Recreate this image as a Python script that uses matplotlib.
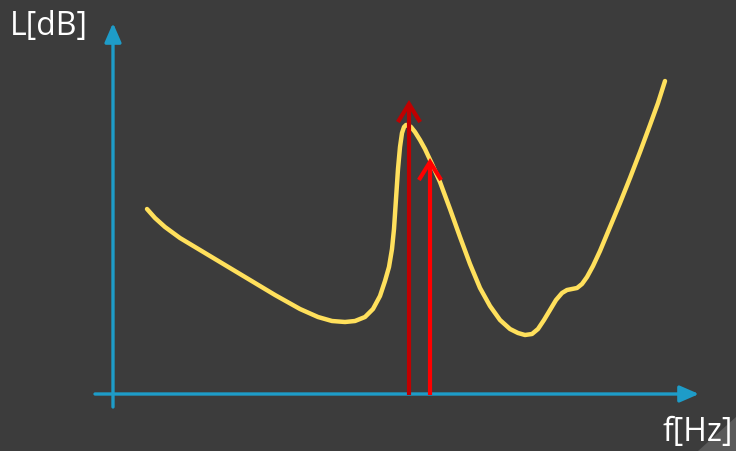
import matplotlib
matplotlib.use("Agg")
import matplotlib.pyplot as plt
from matplotlib.patches import FancyArrowPatch, Polygon

# Curve (frequency response), in image-like units (x right, y down)
curve_x = [147, 155, 165, 180, 200, 225, 250, 275, 300, 318, 332, 345, 355, 365, 373, 380, 385, 389, 392, 394, 396, 398, 400, 402, 404, 406, 408, 411, 415, 420, 425, 432, 440, 450, 460, 470, 480, 490, 500, 510, 518, 525, 532, 538, 544, 550, 556, 562, 567, 572, 577, 582, 587, 593, 600, 610, 620, 630, 640, 650, 658, 665]
curve_y = [210, 219, 228, 239, 251, 266, 281, 296, 310, 318, 322, 323, 322, 318, 310, 297, 282, 268, 250, 230, 200, 170, 148, 134, 128, 126, 126, 128, 133, 141, 150, 165, 183, 210, 238, 265, 289, 307, 321, 330, 334, 336, 335, 330, 321, 311, 301, 294, 291, 290, 289, 285, 278, 267, 252, 228, 204, 179, 153, 126, 104, 82]

# Red arrows: x position and tip height
arrow_x = [409, 430]
arrow_top = [101, 159]
arrow_colors = ["#c00000", "#ff0000"]

axis_label_y = "L[dB]"
axis_label_x = "f[Hz]"

W, H = 736, 452
fig = plt.figure(figsize=(W / 100, H / 100), dpi=100)
fig.patch.set_facecolor("#3c3c3c")
ax = fig.add_axes([0, 0, 1, 1])
ax.set_facecolor("#3c3c3c")
ax.set_xlim(0, W)
ax.set_ylim(H, 0)
ax.axis("off")

blue = "#1e9cc8"
# axes
ax.add_patch(FancyArrowPatch((113, 408), (113, 24), arrowstyle="-|>,head_length=11.5,head_width=5",
                             color=blue, lw=2.4, mutation_scale=1, shrinkA=0, shrinkB=0))
ax.add_patch(FancyArrowPatch((95, 395), (699, 395), arrowstyle="-|>,head_length=11.5,head_width=5",
                             color=blue, lw=2.4, mutation_scale=1, shrinkA=0, shrinkB=0))

# curve
ax.plot(curve_x, curve_y, color="#ffe05c", lw=3.2, solid_capstyle="round", solid_joinstyle="round", zorder=2)

# red arrows
for xa, yt, c in zip(arrow_x, arrow_top, arrow_colors):
    ax.add_patch(FancyArrowPatch((xa, 396), (xa, yt), arrowstyle="->,head_length=13,head_width=8",
                                 color=c, lw=3.0, mutation_scale=1, shrinkA=0, shrinkB=0,
                                 capstyle="butt", joinstyle="miter", zorder=3))

ax.text(10, 26, axis_label_y, color="white", fontsize=23, family="Open Sans", va="center", ha="left")
ax.text(733, 433, axis_label_x, color="white", fontsize=23, family="Open Sans", va="center", ha="right")

# slide corner
ax.add_patch(Polygon([[698, 452], [736, 452], [736, 418]], closed=True, color="#5a5a5a", lw=0, zorder=0))

fig.savefig("out.png", dpi=100, facecolor=fig.get_facecolor())
